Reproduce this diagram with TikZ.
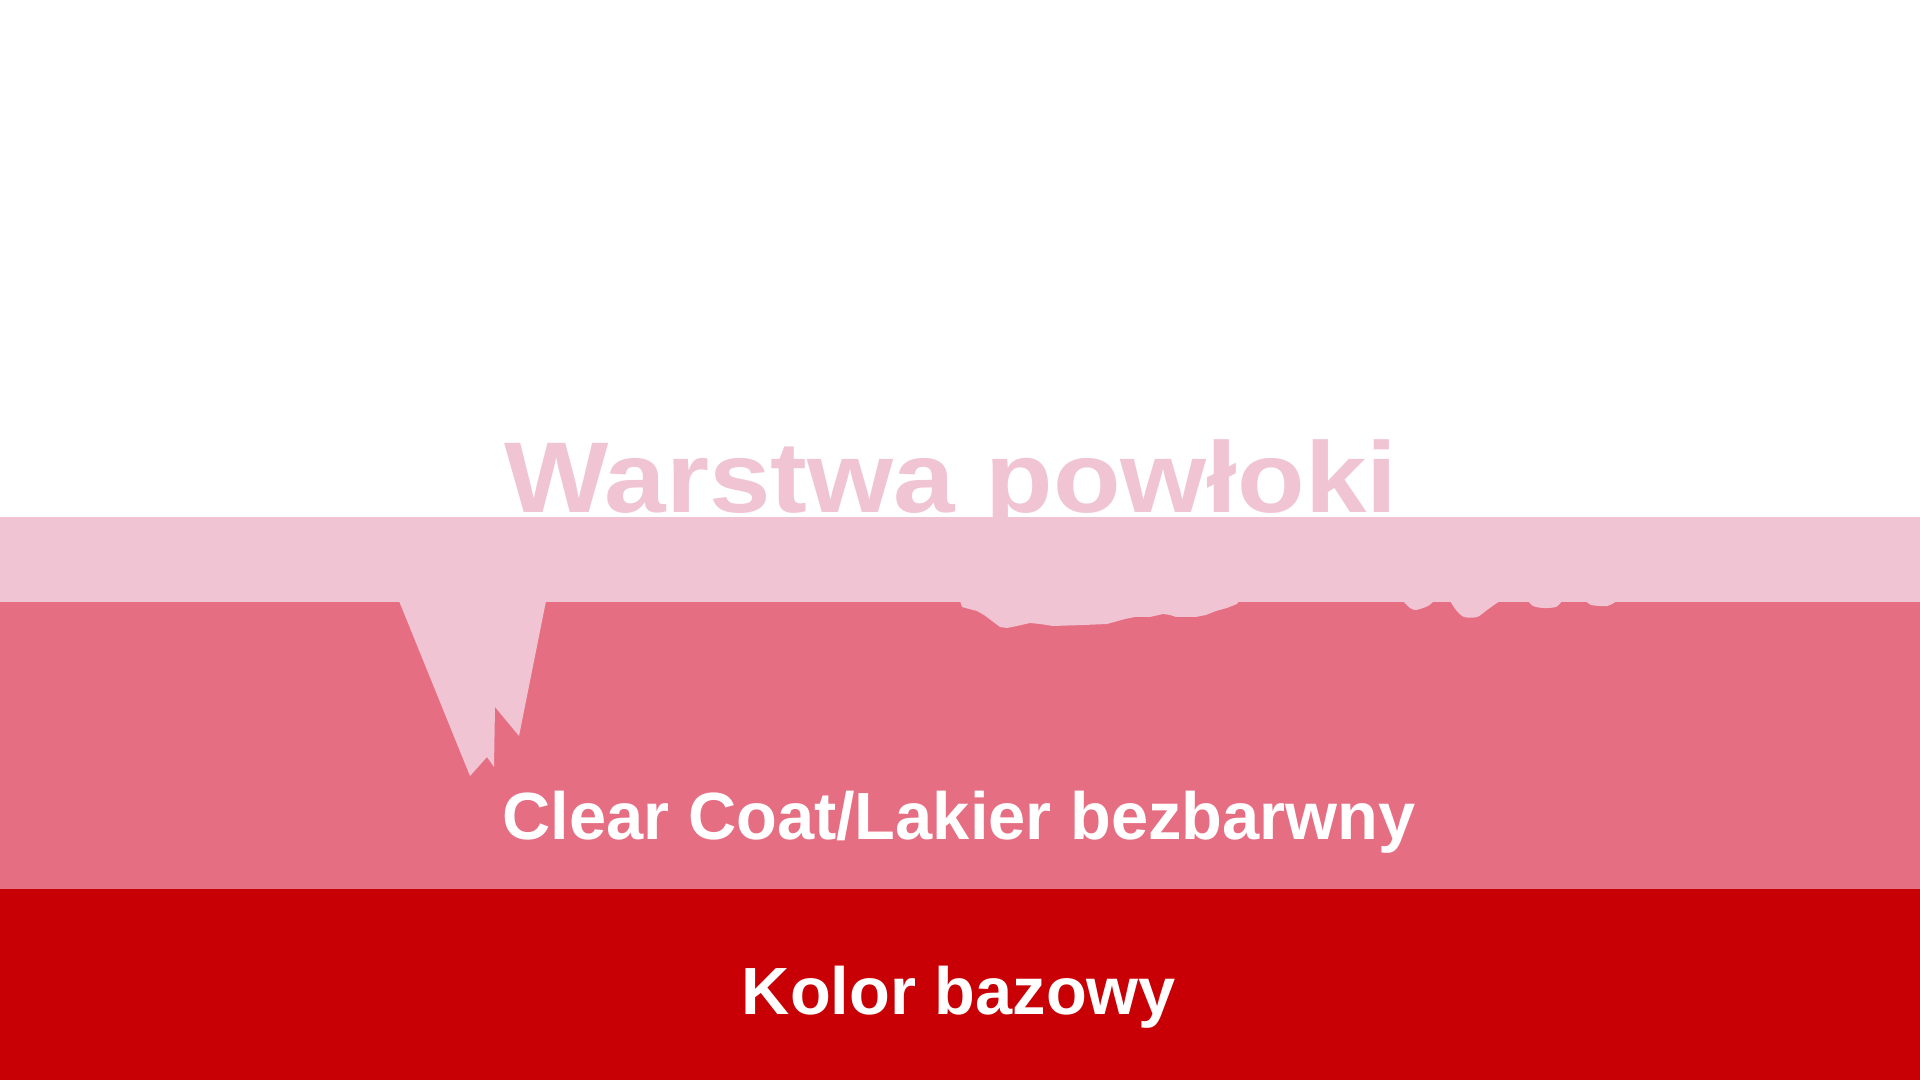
\documentclass[tikz,border=0pt]{standalone}
\usepackage{fontspec}
\setmainfont{Liberation Sans}
\usetikzlibrary{backgrounds}
\tikzset{layerBand/.style={draw=none}}
\tikzset{layerLabel/.style={anchor=base, inner sep=0pt, text=white, font=\bfseries\fontsize{19}{19}\selectfont}}
\tikzset{titleLabel/.style={anchor=base, inner sep=0pt, text=coatPink, font=\bfseries\fontsize{28.6}{29}\selectfont}}
\definecolor{coatPink}{RGB}{240,196,211}
\definecolor{clearPink}{RGB}{230,110,130}
\definecolor{baseRed}{RGB}{200,0,5}

\begin{document}
\begin{tikzpicture}[
  background rectangle/.style={fill=white}, show background rectangle]

\useasboundingbox (0,0) rectangle (19.2,10.8);

% Base colour
\fill[layerBand, baseRed] (0,0) rectangle (19.2,1.91);
% Clear coat
\fill[layerBand, clearPink] (0,1.91) rectangle (19.2,4.78);
% Coating layer
\fill[layerBand, coatPink] (0,4.78) rectangle (19.2,5.63);

% Spike
\fill[layerBand, coatPink] (3.99,4.79) -- (4.70,3.04) -- (4.87,3.23) -- (4.94,3.13)
  -- (4.95,3.73) -- (5.19,3.44) -- (5.46,4.79) -- cycle;

% Drips
\fill[layerBand, coatPink] (9.60,4.79) -- (9.62,4.73) -- (9.69,4.71) -- (9.77,4.69)
  -- (9.84,4.65) -- (9.92,4.59) -- (10.00,4.53) -- (10.07,4.52) -- (10.17,4.54)
  -- (10.30,4.57) -- (10.40,4.56) -- (10.53,4.54) -- (10.84,4.55) -- (11.07,4.56)
  -- (11.25,4.61) -- (11.35,4.63) -- (11.50,4.63) -- (11.63,4.66) -- (11.70,4.65)
  -- (11.76,4.63) -- (11.96,4.63) -- (12.06,4.65) -- (12.16,4.69) -- (12.27,4.72)
  -- (12.37,4.76) -- (12.39,4.79) -- cycle;
\fill[layerBand, coatPink] plot[smooth, tension=0.5] coordinates
  {(14.03,4.79) (14.10,4.72) (14.15,4.70) (14.20,4.71) (14.28,4.74) (14.34,4.79)} -- cycle;
\fill[layerBand, coatPink] plot[smooth, tension=0.5] coordinates
  {(14.50,4.79) (14.56,4.70) (14.64,4.63) (14.77,4.63) (14.87,4.70) (14.94,4.75) (15.00,4.79)} -- cycle;
\fill[layerBand, coatPink] plot[smooth, tension=0.5] coordinates
  {(15.28,4.79) (15.33,4.74) (15.43,4.72) (15.56,4.73) (15.62,4.79)} -- cycle;
\fill[layerBand, coatPink] plot[smooth, tension=0.5] coordinates
  {(15.86,4.79) (15.91,4.75) (16.07,4.74) (16.17,4.79)} -- cycle;

% Labels
\node[titleLabel] (coat) at (9.51,5.67) {\scalebox{1.1}[1]{Warstwa powłoki}};
\node[layerLabel] (clear) at (9.59,2.40) {Clear Coat/Lakier bezbarwny};
\node[layerLabel] (base) at (9.59,0.65) {Kolor bazowy};

\end{tikzpicture}
\end{document}
